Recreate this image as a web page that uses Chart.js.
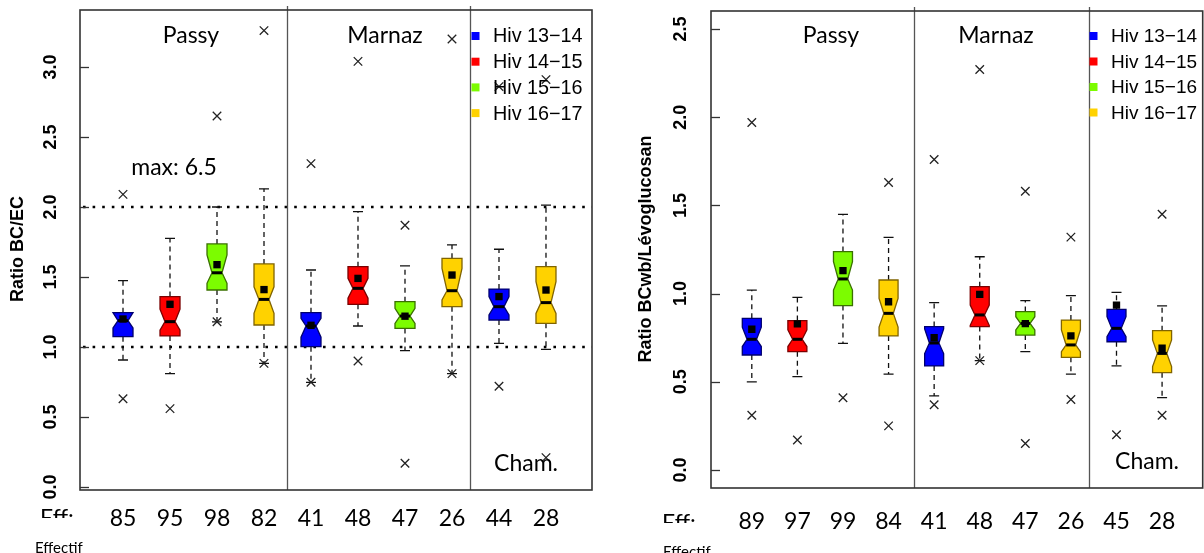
<!DOCTYPE html>
<html><head><meta charset="utf-8">
<script src="https://cdn.jsdelivr.net/npm/chart.js@4.4.1/dist/chart.umd.min.js"></script>
<style>
html,body{margin:0;padding:0;background:#fff;overflow:hidden;width:1204px;height:553px;position:relative;}
canvas{position:absolute;top:0;}
#c1{left:0;} #c2{left:600px;}
.clip{position:absolute;overflow:hidden;font-family:Lato,"Liberation Sans",sans-serif;color:#000;}
.clip span{position:absolute;left:0;white-space:nowrap;}
</style></head><body>
<canvas id="c1" width="600" height="553"></canvas>
<canvas id="c2" width="610" height="553"></canvas>
<div class="clip" style="left:40px;top:500px;width:45px;height:18px;"><span style="top:6px;font-size:23px;line-height:23px;">Eff:</span></div>
<div class="clip" style="left:662px;top:505px;width:45px;height:18px;"><span style="top:6px;font-size:23px;line-height:23px;">Eff:</span></div>
<div class="clip" style="left:35px;top:538px;width:80px;height:20px;"><span style="top:2px;font-size:15px;line-height:15px;">Effectif</span></div>
<div class="clip" style="left:663px;top:542px;width:80px;height:20px;"><span style="top:2px;font-size:15px;line-height:15px;">Effectif</span></div>
<script>
// ---------- shared ----------
const seasons = ['Hiv 13\u221214', 'Hiv 14\u221215', 'Hiv 15\u221216', 'Hiv 16\u221217'];
const boxSeason = [0, 1, 2, 3, 0, 1, 2, 3, 0, 3];

// ---------- left panel: Ratio BC/EC ----------
const ecCounts    = [85, 95, 98, 82, 41, 48, 47, 26, 44, 28];
const ecWhiskLow  = [0.907, 0.81, 1.18, 0.883, 0.748, 1.15, 0.974, 0.81, 1.026, 0.983];
const ecQ1        = [1.074, 1.079, 1.407, 1.157, 1.002, 1.305, 1.133, 1.288, 1.193, 1.169];
const ecNotchLow  = [1.136, 1.12, 1.455, 1.24, 1.07, 1.348, 1.169, 1.336, 1.229, 1.24];
const ecMedian    = [1.188, 1.181, 1.53, 1.34, 1.15, 1.419, 1.221, 1.402, 1.288, 1.317];
const ecNotchHigh = [1.245, 1.27, 1.657, 1.43, 1.205, 1.49, 1.276, 1.562, 1.36, 1.466];
const ecQ3        = [1.245, 1.36, 1.736, 1.593, 1.245, 1.574, 1.324, 1.633, 1.414, 1.574];
const ecWhiskHigh = [1.474, 1.776, 2.0, 2.13, 1.55, 1.967, 1.579, 1.729, 1.698, 2.014];
const ecMean      = [1.20, 1.305, 1.588, 1.41, 1.155, 1.49, 1.22, 1.514, 1.36, 1.407];
const ecOutBox    = [0, 0, 1, 2, 2, 3, 3, 4, 4, 5, 5, 6, 6, 7, 7, 8, 8, 9, 9];
const ecOutValue  = [2.09, 0.63, 0.56, 2.65, 1.18, 3.26, 0.883, 2.31, 0.748, 3.04, 0.90, 1.87, 0.17, 3.20, 0.81, 2.86, 0.72, 2.91, 0.21];
const ecTicks     = [0, 0.5, 1, 1.5, 2, 2.5, 3];
const ecRefLines  = [1, 2];

// ---------- right panel: Ratio BCwb/Lévoglucosan ----------
const lvCounts    = [89, 97, 99, 84, 41, 48, 47, 26, 45, 28];
const lvWhiskLow  = [0.50, 0.529, 0.718, 0.544, 0.42, 0.62, 0.671, 0.544, 0.59, 0.41];
const lvQ1        = [0.652, 0.671, 0.932, 0.76, 0.59, 0.813, 0.765, 0.639, 0.727, 0.552];
const lvNotchLow  = [0.70, 0.70, 1.02, 0.81, 0.66, 0.82, 0.794, 0.671, 0.756, 0.586];
const lvMedian    = [0.741, 0.741, 1.083, 0.888, 0.72, 0.879, 0.831, 0.709, 0.803, 0.661];
const lvNotchHigh = [0.81, 0.794, 1.181, 0.973, 0.80, 0.935, 0.869, 0.794, 0.869, 0.737];
const lvQ3        = [0.86, 0.847, 1.238, 1.077, 0.813, 1.039, 0.898, 0.85, 0.911, 0.79];
const lvWhiskHigh = [1.02, 0.979, 1.449, 1.319, 0.949, 1.209, 0.96, 0.988, 1.007, 0.93];
const lvMean      = [0.798, 0.828, 1.13, 0.954, 0.75, 0.996, 0.83, 0.76, 0.935, 0.69];
const lvOutBox    = [0, 0, 1, 2, 3, 3, 4, 4, 5, 5, 6, 6, 7, 7, 8, 9, 9];
const lvOutValue  = [1.97, 0.31, 0.17, 0.41, 1.63, 0.25, 1.76, 0.37, 2.27, 0.62, 1.58, 0.15, 1.32, 0.40, 0.20, 1.45, 0.31];
const lvTicks     = [0, 0.5, 1, 1.5, 2, 2.5];

// ---------- styles ----------
const fillColors   = ['#0000ff', '#ff0000', '#7cfc00', '#ffd200'];
const strokeColors = ['#00006e', '#7a0000', '#3a7000', '#806400'];

function buildPanel(id, d, g) {
  const plugin = {
    id: 'boxes_' + id,
    beforeDatasetsDraw(chart) {
      const {ctx, chartArea: a, scales: {x, y}} = chart;
      ctx.save();
      // dotted reference lines
      ctx.strokeStyle = '#000'; ctx.lineWidth = 2.6; ctx.setLineDash([2.6, 7]);
      (d.refLines || []).forEach(v => {
        const py = Math.round(y.getPixelForValue(v));
        ctx.beginPath(); ctx.moveTo(a.left + 3, py); ctx.lineTo(a.right, py); ctx.stroke();
      });
      // whiskers
      for (let i = 0; i < d.counts.length; i++) {
        const xc = x.getPixelForValue(i);
        ctx.strokeStyle = '#111'; ctx.lineWidth = 1.3; ctx.setLineDash([5, 4]);
        ctx.beginPath();
        ctx.moveTo(xc, y.getPixelForValue(d.q3[i])); ctx.lineTo(xc, y.getPixelForValue(d.wHi[i]));
        ctx.moveTo(xc, y.getPixelForValue(d.q1[i])); ctx.lineTo(xc, y.getPixelForValue(d.wLo[i]));
        ctx.stroke();
        ctx.setLineDash([]);
        ctx.beginPath();
        [d.wHi[i], d.wLo[i]].forEach(v => {
          const py = y.getPixelForValue(v);
          ctx.moveTo(xc - g.cap, py); ctx.lineTo(xc + g.cap, py);
        });
        ctx.stroke();
      }
      // notched boxes
      for (let i = 0; i < d.counts.length; i++) {
        const s = boxSeason[i];
        const xc = x.getPixelForValue(i);
        const hw = g.halfWidth, w = g.halfWidth * g.waist;
        const yq1 = y.getPixelForValue(d.q1[i]), yq3 = y.getPixelForValue(d.q3[i]);
        const ym = y.getPixelForValue(d.med[i]);
        const yHi = y.getPixelForValue(Math.min(d.nHi[i], d.q3[i]));
        const yLo = y.getPixelForValue(Math.max(d.nLo[i], d.q1[i]));
        ctx.beginPath();
        ctx.moveTo(xc - hw, yq3); ctx.lineTo(xc + hw, yq3); ctx.lineTo(xc + hw, yHi);
        ctx.lineTo(xc + w, ym); ctx.lineTo(xc + hw, yLo); ctx.lineTo(xc + hw, yq1);
        ctx.lineTo(xc - hw, yq1); ctx.lineTo(xc - hw, yLo); ctx.lineTo(xc - w, ym);
        ctx.lineTo(xc - hw, yHi); ctx.closePath();
        ctx.fillStyle = fillColors[s]; ctx.fill();
        ctx.strokeStyle = strokeColors[s]; ctx.lineWidth = 1.3; ctx.stroke();
        ctx.strokeStyle = '#000'; ctx.lineWidth = 3;
        ctx.beginPath(); ctx.moveTo(xc - w, ym); ctx.lineTo(xc + w, ym); ctx.stroke();
      }
      ctx.restore();
    },
    afterDraw(chart) {
      const {ctx, chartArea: a, scales: {x, y}} = chart;
      ctx.save();
      // separators
      ctx.strokeStyle = '#555'; ctx.lineWidth = 1.3;
      g.separators.forEach(v => {
        const px = Math.round(x.getPixelForValue(v)) + 0.5;
        ctx.beginPath(); ctx.moveTo(px, a.top - 4); ctx.lineTo(px, a.bottom); ctx.stroke();
      });
      // frame
      ctx.strokeStyle = '#333'; ctx.lineWidth = 1.6;
      ctx.strokeRect(a.left, a.top, a.right - a.left, a.bottom - a.top);
      // y ticks
      ctx.lineWidth = 1.3;
      d.ticks.forEach(v => {
        const py = Math.round(y.getPixelForValue(v)) + 0.5;
        ctx.beginPath(); ctx.moveTo(a.left, py); ctx.lineTo(a.left + 9, py); ctx.stroke();
      });
      ctx.fillStyle = '#000';
      ctx.font = 'bold 18px "Liberation Sans", Arial, sans-serif';
      ctx.textAlign = 'center'; ctx.textBaseline = 'middle';
      d.ticks.forEach(v => {
        const py = y.getPixelForValue(v);
        ctx.save(); ctx.translate(g.tickLabelX, py); ctx.rotate(-Math.PI / 2);
        ctx.fillText(v.toFixed(1), 0, 1); ctx.restore();
      });
      // y title
      ctx.save(); ctx.translate(g.titleX, g.titleY); ctx.rotate(-Math.PI / 2);
      ctx.font = 'bold 18px "Liberation Sans", Arial, sans-serif';
      ctx.fillText(d.title, 0, 0); ctx.restore();
      // counts under boxes
      ctx.font = '23px Lato, "Liberation Sans", sans-serif';
      d.counts.forEach((c, i) => ctx.fillText(String(c), x.getPixelForValue(i), g.countY));
      // site labels
      ctx.font = '23px Lato, "Liberation Sans", sans-serif';
      g.labels.forEach(l => ctx.fillText(l.text, l.x, l.y));
      // legend
      ctx.textAlign = 'left';
      ctx.font = g.legendFont + 'px "Liberation Sans", Arial, sans-serif';
      seasons.forEach((sname, k) => {
        const ly = g.legendY + k * g.legendStep;
        ctx.fillStyle = fillColors[k];
        ctx.fillRect(g.legendSqX - 4, ly - 4, 8, 8);
        ctx.fillStyle = '#000';
        ctx.fillText(sname, g.legendTextX, ly + 1);
      });
      ctx.restore();
    }
  };

  return new Chart(document.getElementById(id), {
    type: 'scatter',
    data: {
      datasets: [
        {
          label: 'mean',
          data: d.mean.map((m, i) => ({x: i, y: m})),
          pointStyle: 'rect', pointRadius: 5.2, backgroundColor: '#000', borderWidth: 0
        },
        {
          label: 'outliers',
          data: d.outBox.map((b, k) => ({x: b, y: d.outVal[k]})),
          pointStyle: 'crossRot', pointRadius: 6, borderColor: '#222', borderWidth: 1.3,
          backgroundColor: 'transparent'
        }
      ]
    },
    options: {
      responsive: false, animation: false, events: [],
      layout: {padding: g.padding},
      plugins: {legend: {display: false}, tooltip: {enabled: false}},
      scales: {
        x: {type: 'linear', min: g.xMin, max: g.xMax, display: false},
        y: {type: 'linear', min: g.yMin, max: g.yMax, display: false}
      }
    },
    plugins: [plugin]
  });
}

buildPanel('c1', {
  counts: ecCounts, wLo: ecWhiskLow, q1: ecQ1, nLo: ecNotchLow, med: ecMedian, nHi: ecNotchHigh,
  q3: ecQ3, wHi: ecWhiskHigh, mean: ecMean, outBox: ecOutBox, outVal: ecOutValue,
  ticks: ecTicks, refLines: ecRefLines, title: 'Ratio BC/EC'
}, {
  padding: {left: 80, top: 10, right: 8, bottom: 63},
  xMin: -0.915, xMax: 9.979, yMin: -0.0214, yMax: 3.407,
  halfWidth: 10, waist: 0.5, cap: 5,
  separators: [3.49, 7.38],
  tickLabelX: 50, titleX: 18, titleY: 249, countY: 519,
  labels: [{text: 'Passy', x: 191, y: 36}, {text: 'Marnaz', x: 385, y: 36},
           {text: 'Cham.', x: 526, y: 464}, {text: 'max: 6.5', x: 174, y: 168}],
  legendFont: 19.8, legendSqX: 475.5, legendTextX: 493, legendY: 36, legendStep: 25.7
});

buildPanel('c2', {
  counts: lvCounts, wLo: lvWhiskLow, q1: lvQ1, nLo: lvNotchLow, med: lvMedian, nHi: lvNotchHigh,
  q3: lvQ3, wHi: lvWhiskHigh, mean: lvMean, outBox: lvOutBox, outVal: lvOutValue,
  ticks: lvTicks, refLines: [], title: 'Ratio BCwb/Lévoglucosan'
}, {
  padding: {left: 111, top: 11, right: 5, bottom: 65},
  xMin: -0.895, xMax: 9.891, yMin: -0.102, yMax: 2.602,
  halfWidth: 9.5, waist: 0.5, cap: 5,
  separators: [3.56, 7.40],
  tickLabelX: 80.5, titleX: 46, titleY: 249, countY: 522,
  labels: [{text: 'Passy', x: 231, y: 36}, {text: 'Marnaz', x: 396, y: 36},
           {text: 'Cham.', x: 547, y: 462}],
  legendFont: 19, legendSqX: 493.5, legendTextX: 511, legendY: 36, legendStep: 25.5
});
</script>
</body></html>
